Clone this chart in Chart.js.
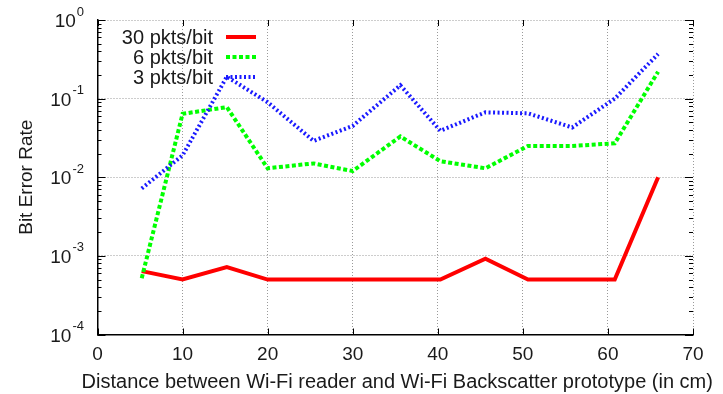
<!DOCTYPE html>
<html>
<head>
<meta charset="utf-8">
<script src="https://cdn.jsdelivr.net/npm/chart.js@4.4.0/dist/chart.umd.min.js"></script>
<style>
  html, body { margin: 0; padding: 0; background: #fff; }
  #wrap { width: 723px; height: 394px; }
</style>
</head>
<body>
<div id="wrap"><canvas id="berChart" width="723" height="394"></canvas></div>
<script>
// data
const distances = [5.2, 10, 15.2, 20, 25.4, 30, 35.6, 40.3, 45.6, 50.6, 55.8, 60.8, 65.9];
const ber30 = [6.4e-4, 5e-4, 7.2e-4, 5e-4, 5e-4, 5e-4, 5e-4, 5e-4, 9.2e-4, 5e-4, 5e-4, 5e-4, 1e-2];
const ber6 = [5.2e-4, 0.064, 0.078, 0.013, 0.015, 0.012, 0.033, 0.016, 0.013, 0.025, 0.025, 0.027, 0.22];
const ber3 = [0.0072, 0.019, 0.19, 0.09, 0.029, 0.045, 0.148, 0.039, 0.067, 0.065, 0.043, 0.1, 0.37];
const seriesLabels = ['30 pkts/bit', '6 pkts/bit', '3 pkts/bit'];
const xTicks = [0, 10, 20, 30, 40, 50, 60, 70];
const yTicks = [1e-4, 1e-3, 1e-2, 1e-1, 1];
const yExponents = ['-4', '-3', '-2', '-1', '0'];
const xTitle = 'Distance between Wi-Fi reader and Wi-Fi Backscatter prototype (in cm)';

const FONT = '"Liberation Sans", Arial, sans-serif';
const TXT = '#1a1a1a';

function pts(vals) {
  return distances.map((d, i) => ({ x: d, y: vals[i] }));
}

// gnuplot style frame: log minor ticks, mirrored ticks, superscript labels, legend
const gnuplotFrame = {
  id: 'gnuplotFrame',
  afterDraw(chart) {
    const ctx = chart.ctx;
    const x = chart.scales.x, y = chart.scales.y;
    const a = chart.chartArea;
    ctx.save();
    ctx.strokeStyle = '#000';
    ctx.lineWidth = 1;
    ctx.beginPath();
    // y ticks major + minor, left and right
    for (let d = -4; d < 0; d++) {
      for (let k = 1; k <= 9; k++) {
        const py = Math.round(y.getPixelForValue(k * Math.pow(10, d))) + 0.5;
        const len = k === 1 ? 8 : 4;
        ctx.moveTo(a.left, py); ctx.lineTo(a.left + len, py);
        ctx.moveTo(a.right, py); ctx.lineTo(a.right - len, py);
      }
    }
    const pyTop = Math.round(y.getPixelForValue(1)) + 0.5;
    ctx.moveTo(a.left, pyTop); ctx.lineTo(a.left + 8, pyTop);
    ctx.moveTo(a.right, pyTop); ctx.lineTo(a.right - 8, pyTop);
    // x ticks bottom and top
    xTicks.forEach(v => {
      const px = Math.round(x.getPixelForValue(v)) + 0.5;
      ctx.moveTo(px, a.bottom); ctx.lineTo(px, a.bottom - 6);
      ctx.moveTo(px, a.top); ctx.lineTo(px, a.top + 6);
    });
    ctx.stroke();

    // y tick labels 10^n
    ctx.fillStyle = TXT;
    ctx.textBaseline = 'middle';
    yTicks.forEach((v, i) => {
      const py = y.getPixelForValue(v);
      ctx.font = '13px ' + FONT;
      ctx.textAlign = 'right';
      const ex = yExponents[i];
      const exRight = 84;
      ctx.fillText(ex, exRight, py - 8);
      const exW = ctx.measureText(ex).width;
      ctx.font = '19px ' + FONT;
      ctx.fillText('10', exRight - exW - 1, py + 2);
    });

    // x axis title, wider than the plot area so not squeezed
    ctx.font = '20px ' + FONT;
    ctx.textAlign = 'center';
    ctx.textBaseline = 'alphabetic';
    ctx.fillText(xTitle, (a.left + a.right) / 2 + 2, 388);

    // legend, text right aligned, sample to the right
    ctx.textBaseline = 'middle';
    const rows = [37, 57, 77];
    chart.data.datasets.forEach((ds, i) => {
      ctx.font = '20px ' + FONT;
      ctx.textAlign = 'right';
      ctx.fillStyle = TXT;
      ctx.fillText(ds.label, 213, rows[i] + 1);
      ctx.beginPath();
      ctx.strokeStyle = ds.borderColor;
      ctx.lineWidth = ds.borderWidth;
      ctx.setLineDash(ds.borderDash || []);
      ctx.moveTo(226, rows[i]);
      ctx.lineTo(256, rows[i]);
      ctx.stroke();
    });
    ctx.restore();
  }
};

new Chart(document.getElementById('berChart'), {
  type: 'line',
  data: {
    datasets: [
      {
        label: seriesLabels[0],
        data: pts(ber30),
        borderColor: '#ff0000',
        borderWidth: 4,
        pointRadius: 0,
        tension: 0,
        order: 2
      },
      {
        label: seriesLabels[1],
        data: pts(ber6),
        borderColor: '#00ff00',
        borderWidth: 4,
        borderDash: [4, 2.5],
        pointRadius: 0,
        tension: 0,
        order: 1
      },
      {
        label: seriesLabels[2],
        data: pts(ber3),
        borderColor: '#1a1aff',
        borderWidth: 4,
        borderDash: [2, 2.5],
        pointRadius: 0,
        tension: 0,
        order: 0
      }
    ]
  },
  options: {
    responsive: false,
    animation: false,
    clip: false,
    layout: { padding: { top: 20, right: 30, left: 0, bottom: 0 } },
    plugins: {
      legend: { display: false },
      tooltip: { enabled: false }
    },
    scales: {
      x: {
        type: 'linear',
        min: 0,
        max: 70,
        afterFit(scale) { scale.height = 59.5; },
        afterBuildTicks(scale) { scale.ticks = xTicks.map(v => ({ value: v })); },
        grid: { color: '#9a9a9a', lineWidth: 1, drawTicks: false },
        border: { display: true, color: '#000', width: 1.5, dash: [1, 2] },
        ticks: {
          color: TXT,
          padding: 9,
          maxRotation: 0,
          font: { family: FONT, size: 19 }
        },
        title: { display: false }
      },
      y: {
        type: 'logarithmic',
        min: 1e-4,
        max: 1,
        afterFit(scale) { scale.width = 97.5; },
        afterBuildTicks(scale) { scale.ticks = yTicks.map(v => ({ value: v })); },
        grid: { color: '#9a9a9a', lineWidth: 1, drawTicks: false },
        border: { display: true, color: '#000', width: 1.5, dash: [1, 2] },
        ticks: { display: false },
        title: {
          display: true,
          text: 'Bit Error Rate',
          color: TXT,
          font: { family: FONT, size: 19 },
          padding: { top: 15, bottom: 0 }
        }
      }
    }
  },
  plugins: [gnuplotFrame]
});
</script>
</body>
</html>
